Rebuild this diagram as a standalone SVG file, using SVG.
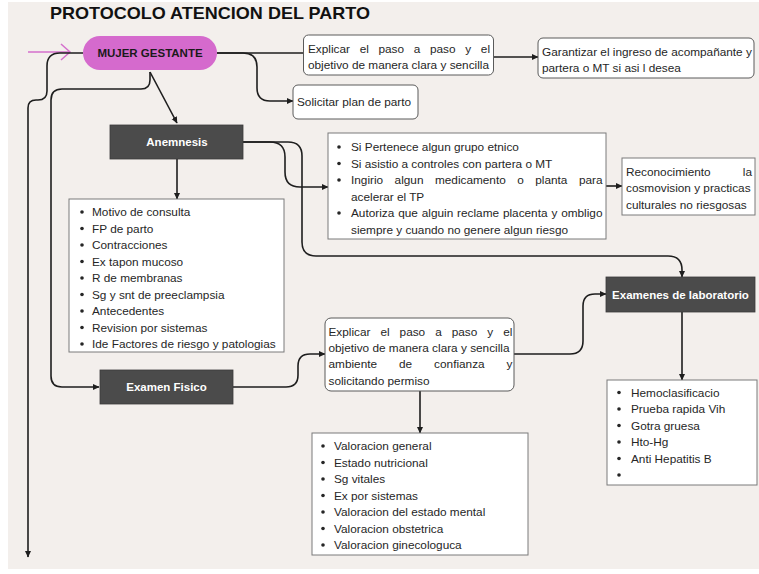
<svg xmlns="http://www.w3.org/2000/svg" width="759" height="574" viewBox="0 0 759 574">
<defs>
<style>
.t{font-family:"Liberation Sans",Arial,sans-serif;font-size:11.8px;fill:#262626}
.b{font-family:"Liberation Sans",Arial,sans-serif;font-weight:bold;font-size:11.5px;text-anchor:middle}
.w{fill:#ffffff}
.rb{fill:#ffffff;stroke:#5a5a5a;stroke-width:1}
.lb{fill:#ffffff;stroke:#7a7a7a;stroke-width:1}
.dk{fill:#4b4b4b;stroke:#3a3a3a;stroke-width:0.8}
.c{fill:none;stroke:#1e1e1e;stroke-width:1.6}
.bul{fill:#262626}
</style>
<marker id="ah" markerUnits="userSpaceOnUse" markerWidth="7" markerHeight="7" refX="6" refY="3.5" orient="auto">
<path d="M0,0.5 L6.5,3.5 L0,6.5 z" fill="#1e1e1e"/>
</marker>
</defs>
<rect x="0" y="0" width="759" height="574" fill="#ffffff"/>
<rect x="8" y="2" width="751" height="567" fill="#f3efec"/>
<text x="50" y="19" font-family="'Liberation Sans',Arial,sans-serif" font-weight="bold" font-size="17" textLength="320" lengthAdjust="spacingAndGlyphs" fill="#111">PROTOCOLO ATENCION DEL PARTO</text>

<g id="connectors">
<g fill="none" stroke="#d46fcc" stroke-width="1.5">
<path d="M28,52 H70"/>
<path d="M61,44 L70,52 L61,60"/>
</g>
<path class="c" d="M217,53 H304"/>
<path class="c" d="M493,57 H538" marker-end="url(#ah)"/>
<path class="c" d="M217,53 H243 Q257,53 257,67 V88 Q257,101 270,101 H293" marker-end="url(#ah)"/>
<path class="c" d="M83,53 H60 Q47,53 47,66 V91 Q47,100 38,100 H36 Q28,100 28,108 V557" marker-end="url(#ah)"/>
<path class="c" d="M150,72 V80 Q150,89 141,89 H62 Q51,89 51,100 V376 Q51,387 62,387 H99" marker-end="url(#ah)"/>
<path class="c" d="M150,72 L177,123" marker-end="url(#ah)"/>
<path class="c" d="M177,159 V199" marker-end="url(#ah)"/>
<path class="c" d="M243,142 H270 Q285,142 285,157 V172 Q285,187 300,187 H328" marker-end="url(#ah)"/>
<path class="c" d="M243,142 H288 Q302,142 302,156 V242 Q302,256 316,256 H668 Q682,256 682,270 V277" marker-end="url(#ah)"/>
<path class="c" d="M606,186 H622" marker-end="url(#ah)"/>
<path class="c" d="M233,387 H286 Q298,387 298,375 V366 Q298,354 310,354 H325" marker-end="url(#ah)"/>
<path class="c" d="M514,354 H570 Q583,354 583,341 V306 Q583,294 595,294 H606" marker-end="url(#ah)"/>
<path class="c" d="M420,391 V433" marker-end="url(#ah)"/>
<path class="c" d="M682,312 V380" marker-end="url(#ah)"/>
</g>

<g id="mujer-gestante">
<rect x="83" y="36" width="134" height="34" rx="17" fill="#d56acd"/>
<text class="b" x="150" y="57" fill="#1a1a1a">MUJER GESTANTE</text>
</g>

<g id="explicar-1">
<rect class="rb" x="303.5" y="35" width="190" height="40" rx="5"/>
<text class="t" x="308" y="53" word-spacing="6.4">Explicar el paso a paso y el</text>
<text class="t" x="308" y="69">objetivo de manera clara y sencilla</text>
</g>

<g id="garantizar">
<rect class="rb" x="538" y="38" width="216" height="40" rx="5"/>
<text class="t" x="542" y="56">Garantizar el ingreso de acompañante y</text>
<text class="t" x="542" y="71.5">partera o MT si asi l desea</text>
</g>

<g id="solicitar">
<rect class="rb" x="293" y="85" width="125" height="34" rx="5"/>
<text class="t" x="297" y="106">Solicitar plan de parto</text>
</g>

<g id="anemnesis">
<rect class="dk" x="110" y="125" width="133" height="34"/>
<text class="b w" x="177" y="146">Anemnesis</text>
</g>

<g id="lista-anemnesis">
<rect class="lb" x="69" y="199" width="215" height="153"/>
<g class="bul">
<circle cx="82" cy="212" r="1.8"/><circle cx="82" cy="228.5" r="1.8"/><circle cx="82" cy="245" r="1.8"/>
<circle cx="82" cy="261.5" r="1.8"/><circle cx="82" cy="278" r="1.8"/><circle cx="82" cy="294.5" r="1.8"/>
<circle cx="82" cy="311" r="1.8"/><circle cx="82" cy="327.5" r="1.8"/><circle cx="82" cy="344" r="1.8"/>
</g>
<text class="t" x="92" y="216">Motivo de consulta</text>
<text class="t" x="92" y="232.5">FP de parto</text>
<text class="t" x="92" y="249">Contracciones</text>
<text class="t" x="92" y="265.5">Ex tapon mucoso</text>
<text class="t" x="92" y="282">R de membranas</text>
<text class="t" x="92" y="298.5">Sg y snt de preeclampsia</text>
<text class="t" x="92" y="315">Antecedentes</text>
<text class="t" x="92" y="331.5">Revision por sistemas</text>
<text class="t" x="92" y="348">Ide Factores de riesgo y patologias</text>
</g>

<g id="lista-cultural">
<rect class="lb" x="328" y="133" width="278" height="106"/>
<g class="bul">
<circle cx="339" cy="147" r="1.8"/><circle cx="339" cy="163.5" r="1.8"/><circle cx="339" cy="180" r="1.8"/><circle cx="339" cy="213" r="1.8"/>
</g>
<text class="t" x="351" y="151">Si Pertenece algun grupo etnico</text>
<text class="t" x="351" y="167.5">Si asistio a controles con partera o MT</text>
<text class="t" x="351" y="184" word-spacing="8.2">Ingirio algun medicamento o planta para</text>
<text class="t" x="351" y="200.5">acelerar el TP</text>
<text class="t" x="351" y="217" word-spacing="0.6">Autoriza que alguin reclame placenta y ombligo</text>
<text class="t" x="351" y="233.5">siempre y cuando no genere algun riesgo</text>
</g>

<g id="reconocimiento">
<rect class="lb" x="622" y="158" width="133" height="57"/>
<text class="t" x="626" y="175.7">Reconocimiento</text>
<text class="t" x="752" y="175.7" text-anchor="end">la</text>
<text class="t" x="626" y="192.3">cosmovision y practicas</text>
<text class="t" x="626" y="208.7">culturales no riesgosas</text>
</g>

<g id="examenes-laboratorio">
<rect class="dk" x="606" y="277" width="149" height="35"/>
<text class="b w" x="680.5" y="299">Examenes de laboratorio</text>
</g>

<g id="examen-fisico">
<rect class="dk" x="100" y="370" width="133" height="34"/>
<text class="b w" x="166.5" y="391">Examen Fisico</text>
</g>

<g id="explicar-2">
<rect class="rb" x="325" y="318" width="189" height="73" rx="6"/>
<text class="t" x="328.5" y="336.3" word-spacing="6.7">Explicar el paso a paso y el</text>
<text class="t" x="328.5" y="352.3">objetivo de manera clara y sencilla</text>
<text class="t" x="328.5" y="368.3" word-spacing="18.7">ambiente de confianza y</text>
<text class="t" x="328.5" y="384.7">solicitando permiso</text>
</g>

<g id="lista-examen-fisico">
<rect class="lb" x="312" y="433" width="216" height="122"/>
<g class="bul">
<circle cx="323" cy="446" r="1.8"/><circle cx="323" cy="462.5" r="1.8"/><circle cx="323" cy="479" r="1.8"/>
<circle cx="323" cy="495.5" r="1.8"/><circle cx="323" cy="512" r="1.8"/><circle cx="323" cy="528.5" r="1.8"/><circle cx="323" cy="545" r="1.8"/>
</g>
<text class="t" x="334" y="450">Valoracion general</text>
<text class="t" x="334" y="466.5">Estado nutricional</text>
<text class="t" x="334" y="483">Sg vitales</text>
<text class="t" x="334" y="499.5">Ex por sistemas</text>
<text class="t" x="334" y="516">Valoracion del estado mental</text>
<text class="t" x="334" y="532.5">Valoracion obstetrica</text>
<text class="t" x="334" y="549">Valoracion ginecologuca</text>
</g>

<g id="lista-laboratorio">
<rect class="lb" x="607" y="380" width="150" height="105"/>
<g class="bul">
<circle cx="619" cy="392.5" r="1.8"/><circle cx="619" cy="409" r="1.8"/><circle cx="619" cy="425.5" r="1.8"/>
<circle cx="619" cy="442" r="1.8"/><circle cx="619" cy="458.5" r="1.8"/><circle cx="619" cy="475" r="1.8"/>
</g>
<text class="t" x="631" y="396.5">Hemoclasificacio</text>
<text class="t" x="631" y="413">Prueba rapida Vih</text>
<text class="t" x="631" y="429.5">Gotra gruesa</text>
<text class="t" x="631" y="446">Hto-Hg</text>
<text class="t" x="631" y="462.5">Anti Hepatitis B</text>
</g>
</svg>
